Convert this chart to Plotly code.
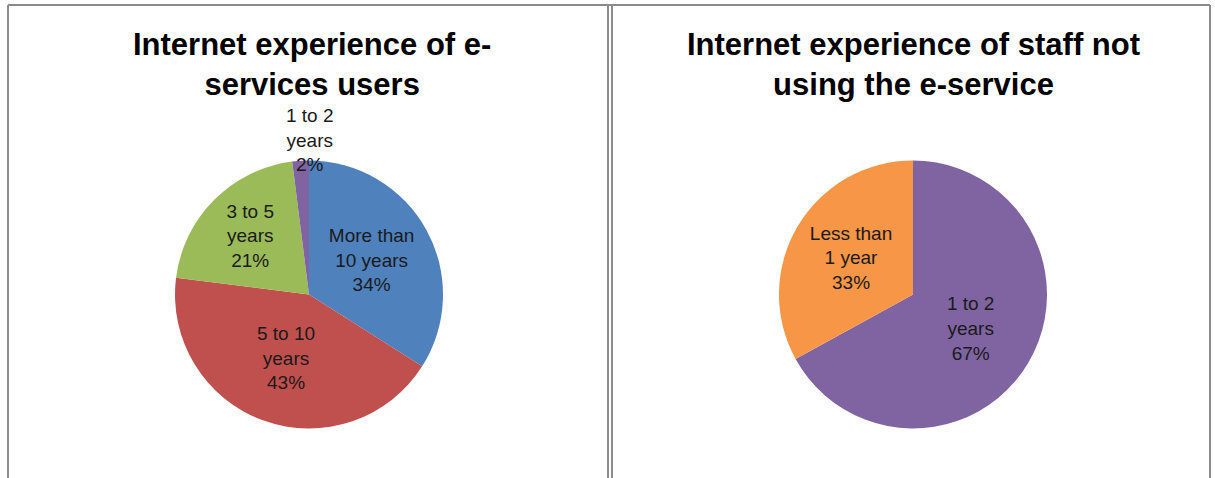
import math
import plotly.graph_objects as go

# Internet experience of e-services users
users_labels = ["More than<br>10 years", "5 to 10<br>years", "3 to 5<br>years", "1 to 2<br>years"]
users_values = [34, 43, 21, 2]
users_colors = ["#4F81BD", "#C0504D", "#9BBB59", "#8064A2"]

# Internet experience of staff not using the e-service
staff_labels = ["1 to 2<br>years", "Less than<br>1 year"]
staff_values = [67, 33]
staff_colors = ["#8064A2", "#F79646"]

titles = ["Internet experience of e-<br>services users",
          "Internet experience of staff not<br>using the e-service"]

W, H = 1215, 478
FONT = "Liberation Sans, Arial, sans-serif"
LABEL_SIZE = 19
TITLE_SIZE = 31


def px(x):
    return x / W


def py(y):
    return 1 - y / H


users_domain = dict(x=[px(175), px(443)], y=[py(429), py(160)])
staff_domain = dict(x=[px(779), px(1047)], y=[py(429), py(160)])

# The tiny slice gets its label outside the pie, above its rim
small_idx = len(users_values) - 1
users_pos = ["inside"] * len(users_values)
users_pos[small_idx] = "none"

fig = go.Figure()

fig.add_trace(go.Pie(
    labels=users_labels,
    values=users_values,
    marker=dict(colors=users_colors, line=dict(width=0)),
    sort=False,
    direction="clockwise",
    rotation=0,
    texttemplate="%{label}<br>%{percent:.0%}",
    textposition=users_pos,
    insidetextorientation="horizontal",
    textfont=dict(family=FONT, size=LABEL_SIZE, color="#1a1a1a"),
    domain=users_domain,
    showlegend=False,
    hoverinfo="label+percent",
))

fig.add_trace(go.Pie(
    labels=staff_labels,
    values=staff_values,
    marker=dict(colors=staff_colors, line=dict(width=0)),
    sort=False,
    direction="clockwise",
    rotation=0,
    texttemplate="%{label}<br>%{percent:.0%}",
    textposition="inside",
    insidetextorientation="horizontal",
    textfont=dict(family=FONT, size=LABEL_SIZE, color="#1a1a1a"),
    domain=staff_domain,
    showlegend=False,
    hoverinfo="label+percent",
))

# Rim point at the middle angle of the small slice (clockwise from 12 o'clock)
total = sum(users_values)
mid_frac = (sum(users_values[:small_idx]) + users_values[small_idx] / 2) / total
ang = 2 * math.pi * mid_frac
cx_px = (users_domain["x"][0] + users_domain["x"][1]) / 2 * W
cy_px = (1 - (users_domain["y"][0] + users_domain["y"][1]) / 2) * H
r_px = min((users_domain["x"][1] - users_domain["x"][0]) * W,
           (users_domain["y"][1] - users_domain["y"][0]) * H) / 2
rim_x = cx_px + r_px * math.sin(ang)
rim_y = cy_px - r_px * math.cos(ang)

# Panel frames
border = dict(color="#8c8c8c", width=2)
shapes = [
    dict(type="line", xref="paper", yref="paper", x0=px(8), x1=px(8), y0=py(5), y1=py(478), line=border),
    dict(type="line", xref="paper", yref="paper", x0=px(8), x1=px(1210), y0=py(5), y1=py(5), line=border),
    dict(type="line", xref="paper", yref="paper", x0=px(608), x1=px(608), y0=py(5), y1=py(478), line=border),
    dict(type="line", xref="paper", yref="paper", x0=px(612), x1=px(612), y0=py(5), y1=py(478), line=border),
    dict(type="line", xref="paper", yref="paper", x0=px(1210), x1=px(1210), y0=py(5), y1=py(478), line=border),
]

annotations = [
    dict(text=titles[0], x=px(312), y=py(64), xref="paper", yref="paper",
         showarrow=False, xanchor="center", yanchor="middle",
         font=dict(family=FONT, size=TITLE_SIZE, color="#000000", weight="bold")),
    dict(text=titles[1], x=px(913), y=py(64), xref="paper", yref="paper",
         showarrow=False, xanchor="center", yanchor="middle",
         font=dict(family=FONT, size=TITLE_SIZE, color="#000000", weight="bold")),
    dict(text=f"{users_labels[small_idx]}<br>{users_values[small_idx] / total:.0%}",
         x=px(rim_x), y=py(rim_y), xref="paper", yref="paper",
         showarrow=False, xanchor="center", yanchor="bottom",
         xshift=9, yshift=-16,
         font=dict(family=FONT, size=LABEL_SIZE, color="#1a1a1a")),
]

fig.update_layout(
    width=W, height=H,
    margin=dict(l=0, r=0, t=0, b=0),
    paper_bgcolor="white",
    plot_bgcolor="white",
    shapes=shapes,
    annotations=annotations,
)

fig.write_html("out.html")
